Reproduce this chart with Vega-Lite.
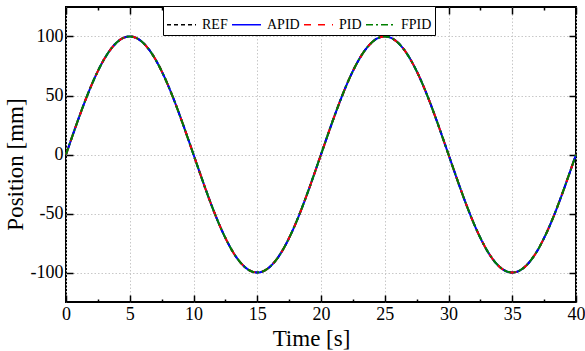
{
  "$schema": "https://vega.github.io/schema/vega-lite/v6.json",
  "width": 510,
  "height": 295,
  "autosize": "none",
  "padding": {"left": 66, "top": 7, "right": 9, "bottom": 49},
  "background": "white",
  "config": {
    "font": "Liberation Serif",
    "style": {"guide-label": {"font": "Liberation Serif"}, "guide-title": {"font": "Liberation Serif"}},
    "view": {"stroke": "black", "strokeWidth": 2},
    "axis": {
      "labelFont": "Liberation Serif",
      "titleFont": "Liberation Serif",
      "labelColor": "black",
      "titleColor": "black",
      "titleFontWeight": "normal",
      "labelFontSize": 18,
      "titleFontSize": 23,
      "domain": false,
      "tickColor": "black",
      "tickWidth": 1.5,
      "gridColor": "#c8c8c8",
      "gridDash": [1.5, 2],
      "gridWidth": 1
    },
    "legend": {
      "orient": "none",
      "legendX": 97,
      "legendY": -1,
      "direction": "horizontal",
      "title": null,
      "symbolType": "stroke",
      "symbolSize": 841,
      "symbolStrokeWidth": 1.6,
      "labelFont": "Liberation Serif",
      "labelFontSize": 14,
      "labelColor": "black",
      "labelOffset": 5,
      "columnPadding": 0,
      "padding": 3,
      "strokeColor": "black",
      "fillColor": "white",
      "cornerRadius": 0
    }
  },
  "data": {
    "values": [
      {"t": 0, "REF": 0, "APID": 0, "PID": 0, "FPID": 0},
      {"t": 0.5, "REF": 15.6, "APID": 15.6, "PID": 15.6, "FPID": 15.6},
      {"t": 1, "REF": 30.9, "APID": 30.9, "PID": 30.9, "FPID": 30.9},
      {"t": 1.5, "REF": 45.4, "APID": 45.4, "PID": 45.4, "FPID": 45.4},
      {"t": 2, "REF": 58.8, "APID": 58.8, "PID": 58.8, "FPID": 58.8},
      {"t": 2.5, "REF": 70.7, "APID": 70.7, "PID": 70.7, "FPID": 70.7},
      {"t": 3, "REF": 80.9, "APID": 80.9, "PID": 80.9, "FPID": 80.9},
      {"t": 3.5, "REF": 89.1, "APID": 89.1, "PID": 89.1, "FPID": 89.1},
      {"t": 4, "REF": 95.1, "APID": 95.1, "PID": 95.1, "FPID": 95.1},
      {"t": 4.5, "REF": 98.8, "APID": 98.8, "PID": 98.8, "FPID": 98.8},
      {"t": 5, "REF": 100, "APID": 100, "PID": 100, "FPID": 100},
      {"t": 5.5, "REF": 98.8, "APID": 98.8, "PID": 98.8, "FPID": 98.8},
      {"t": 6, "REF": 95.1, "APID": 95.1, "PID": 95.1, "FPID": 95.1},
      {"t": 6.5, "REF": 89.1, "APID": 89.1, "PID": 89.1, "FPID": 89.1},
      {"t": 7, "REF": 80.9, "APID": 80.9, "PID": 80.9, "FPID": 80.9},
      {"t": 7.5, "REF": 70.7, "APID": 70.7, "PID": 70.7, "FPID": 70.7},
      {"t": 8, "REF": 58.8, "APID": 58.8, "PID": 58.8, "FPID": 58.8},
      {"t": 8.5, "REF": 45.4, "APID": 45.4, "PID": 45.4, "FPID": 45.4},
      {"t": 9, "REF": 30.9, "APID": 30.9, "PID": 30.9, "FPID": 30.9},
      {"t": 9.5, "REF": 15.6, "APID": 15.6, "PID": 15.6, "FPID": 15.6},
      {"t": 10, "REF": 0, "APID": 0, "PID": 0, "FPID": 0},
      {"t": 10.5, "REF": -15.6, "APID": -15.6, "PID": -15.6, "FPID": -15.6},
      {"t": 11, "REF": -30.9, "APID": -30.9, "PID": -30.9, "FPID": -30.9},
      {"t": 11.5, "REF": -45.4, "APID": -45.4, "PID": -45.4, "FPID": -45.4},
      {"t": 12, "REF": -58.8, "APID": -58.8, "PID": -58.8, "FPID": -58.8},
      {"t": 12.5, "REF": -70.7, "APID": -70.7, "PID": -70.7, "FPID": -70.7},
      {"t": 13, "REF": -80.9, "APID": -80.9, "PID": -80.9, "FPID": -80.9},
      {"t": 13.5, "REF": -89.1, "APID": -89.1, "PID": -89.1, "FPID": -89.1},
      {"t": 14, "REF": -95.1, "APID": -95.1, "PID": -95.1, "FPID": -95.1},
      {"t": 14.5, "REF": -98.8, "APID": -98.8, "PID": -98.8, "FPID": -98.8},
      {"t": 15, "REF": -100, "APID": -100, "PID": -100, "FPID": -100},
      {"t": 15.5, "REF": -98.8, "APID": -98.8, "PID": -98.8, "FPID": -98.8},
      {"t": 16, "REF": -95.1, "APID": -95.1, "PID": -95.1, "FPID": -95.1},
      {"t": 16.5, "REF": -89.1, "APID": -89.1, "PID": -89.1, "FPID": -89.1},
      {"t": 17, "REF": -80.9, "APID": -80.9, "PID": -80.9, "FPID": -80.9},
      {"t": 17.5, "REF": -70.7, "APID": -70.7, "PID": -70.7, "FPID": -70.7},
      {"t": 18, "REF": -58.8, "APID": -58.8, "PID": -58.8, "FPID": -58.8},
      {"t": 18.5, "REF": -45.4, "APID": -45.4, "PID": -45.4, "FPID": -45.4},
      {"t": 19, "REF": -30.9, "APID": -30.9, "PID": -30.9, "FPID": -30.9},
      {"t": 19.5, "REF": -15.6, "APID": -15.6, "PID": -15.6, "FPID": -15.6},
      {"t": 20, "REF": 0, "APID": 0, "PID": 0, "FPID": 0},
      {"t": 20.5, "REF": 15.6, "APID": 15.6, "PID": 15.6, "FPID": 15.6},
      {"t": 21, "REF": 30.9, "APID": 30.9, "PID": 30.9, "FPID": 30.9},
      {"t": 21.5, "REF": 45.4, "APID": 45.4, "PID": 45.4, "FPID": 45.4},
      {"t": 22, "REF": 58.8, "APID": 58.8, "PID": 58.8, "FPID": 58.8},
      {"t": 22.5, "REF": 70.7, "APID": 70.7, "PID": 70.7, "FPID": 70.7},
      {"t": 23, "REF": 80.9, "APID": 80.9, "PID": 80.9, "FPID": 80.9},
      {"t": 23.5, "REF": 89.1, "APID": 89.1, "PID": 89.1, "FPID": 89.1},
      {"t": 24, "REF": 95.1, "APID": 95.1, "PID": 95.1, "FPID": 95.1},
      {"t": 24.5, "REF": 98.8, "APID": 98.8, "PID": 98.8, "FPID": 98.8},
      {"t": 25, "REF": 100, "APID": 100, "PID": 100, "FPID": 100},
      {"t": 25.5, "REF": 98.8, "APID": 98.8, "PID": 98.8, "FPID": 98.8},
      {"t": 26, "REF": 95.1, "APID": 95.1, "PID": 95.1, "FPID": 95.1},
      {"t": 26.5, "REF": 89.1, "APID": 89.1, "PID": 89.1, "FPID": 89.1},
      {"t": 27, "REF": 80.9, "APID": 80.9, "PID": 80.9, "FPID": 80.9},
      {"t": 27.5, "REF": 70.7, "APID": 70.7, "PID": 70.7, "FPID": 70.7},
      {"t": 28, "REF": 58.8, "APID": 58.8, "PID": 58.8, "FPID": 58.8},
      {"t": 28.5, "REF": 45.4, "APID": 45.4, "PID": 45.4, "FPID": 45.4},
      {"t": 29, "REF": 30.9, "APID": 30.9, "PID": 30.9, "FPID": 30.9},
      {"t": 29.5, "REF": 15.6, "APID": 15.6, "PID": 15.6, "FPID": 15.6},
      {"t": 30, "REF": 0, "APID": 0, "PID": 0, "FPID": 0},
      {"t": 30.5, "REF": -15.6, "APID": -15.6, "PID": -15.6, "FPID": -15.6},
      {"t": 31, "REF": -30.9, "APID": -30.9, "PID": -30.9, "FPID": -30.9},
      {"t": 31.5, "REF": -45.4, "APID": -45.4, "PID": -45.4, "FPID": -45.4},
      {"t": 32, "REF": -58.8, "APID": -58.8, "PID": -58.8, "FPID": -58.8},
      {"t": 32.5, "REF": -70.7, "APID": -70.7, "PID": -70.7, "FPID": -70.7},
      {"t": 33, "REF": -80.9, "APID": -80.9, "PID": -80.9, "FPID": -80.9},
      {"t": 33.5, "REF": -89.1, "APID": -89.1, "PID": -89.1, "FPID": -89.1},
      {"t": 34, "REF": -95.1, "APID": -95.1, "PID": -95.1, "FPID": -95.1},
      {"t": 34.5, "REF": -98.8, "APID": -98.8, "PID": -98.8, "FPID": -98.8},
      {"t": 35, "REF": -100, "APID": -100, "PID": -100, "FPID": -100},
      {"t": 35.5, "REF": -98.8, "APID": -98.8, "PID": -98.8, "FPID": -98.8},
      {"t": 36, "REF": -95.1, "APID": -95.1, "PID": -95.1, "FPID": -95.1},
      {"t": 36.5, "REF": -89.1, "APID": -89.1, "PID": -89.1, "FPID": -89.1},
      {"t": 37, "REF": -80.9, "APID": -80.9, "PID": -80.9, "FPID": -80.9},
      {"t": 37.5, "REF": -70.7, "APID": -70.7, "PID": -70.7, "FPID": -70.7},
      {"t": 38, "REF": -58.8, "APID": -58.8, "PID": -58.8, "FPID": -58.8},
      {"t": 38.5, "REF": -45.4, "APID": -45.4, "PID": -45.4, "FPID": -45.4},
      {"t": 39, "REF": -30.9, "APID": -30.9, "PID": -30.9, "FPID": -30.9},
      {"t": 39.5, "REF": -15.6, "APID": -15.6, "PID": -15.6, "FPID": -15.6},
      {"t": 40, "REF": 0, "APID": 0, "PID": 0, "FPID": 0}
    ]
  },
  "transform": [{"fold": ["REF", "APID", "PID", "FPID"], "as": ["series", "pos"]}],
  "resolve": {"axis": {"x": "independent", "y": "independent"}},
  "layer": [
    {
      "mark": {"type": "line", "strokeWidth": 2, "interpolate": "monotone"},
      "encoding": {
        "x": {
          "field": "t", "type": "quantitative",
          "scale": {"domain": [0, 40], "nice": false, "zero": false},
          "axis": {"orient": "bottom", "values": [0, 5, 10, 15, 20, 25, 30, 35, 40], "labelExpr": "toString(datum.value)", "labelFont": "Liberation Serif", "tickSize": -7, "labelPadding": 10, "grid": true, "title": "Time [s]", "titlePadding": 4, "titleX": 245, "labelFlush": false}
        },
        "y": {
          "field": "pos", "type": "quantitative",
          "scale": {"domain": [-125, 125], "nice": false, "zero": false},
          "axis": {"orient": "left", "values": [-100, -50, 0, 50, 100], "labelExpr": "toString(datum.value)", "labelFont": "Liberation Serif", "tickSize": -7, "labelPadding": 10, "grid": true, "title": "Position [mm]", "titlePadding": 3, "titleY": 157}
        },
        "color": {
          "field": "series", "type": "nominal",
          "scale": {"domain": ["REF", "APID", "PID", "FPID"], "range": ["#000000", "#0000ff", "#ff0000", "#008000"]}
        },
        "strokeDash": {
          "field": "series", "type": "nominal",
          "scale": {"domain": ["REF", "APID", "PID", "FPID"], "range": [[4, 3], [1, 0], [7, 7], [7, 3, 2, 3]]}
        },
        "order": {"field": "t", "type": "quantitative"}
      }
    },
    {
      "mark": {"type": "line", "opacity": 0},
      "encoding": {
        "x": {"field": "t", "type": "quantitative", "axis": {"orient": "bottom", "values": [2.5, 7.5, 12.5, 17.5, 22.5, 27.5, 32.5, 37.5], "tickSize": -3, "labels": false, "grid": false, "title": null}},
        "y": {"field": "pos", "type": "quantitative", "axis": {"orient": "left", "values": [-125, 125], "tickSize": 0, "labels": false, "grid": false, "title": null, "ticks": false}}
      }
    },
    {
      "mark": {"type": "line", "opacity": 0},
      "encoding": {
        "x": {"field": "t", "type": "quantitative", "axis": {"orient": "top", "values": [0, 5, 10, 15, 20, 25, 30, 35, 40], "tickSize": -7, "labels": false, "grid": false, "title": null}},
        "y": {"field": "pos", "type": "quantitative", "axis": {"orient": "right", "values": [-100, -50, 0, 50, 100], "tickSize": -7, "labels": false, "grid": false, "title": null}}
      }
    },
    {
      "mark": {"type": "line", "opacity": 0},
      "encoding": {
        "x": {"field": "t", "type": "quantitative", "axis": {"orient": "top", "values": [2.5, 7.5, 12.5, 17.5, 22.5, 27.5, 32.5, 37.5], "tickSize": -3, "labels": false, "grid": false, "title": null}},
        "y": {"field": "pos", "type": "quantitative", "axis": {"orient": "right", "values": [-125, 125], "tickSize": 0, "labels": false, "grid": false, "title": null, "ticks": false}}
      }
    }
  ]
}
